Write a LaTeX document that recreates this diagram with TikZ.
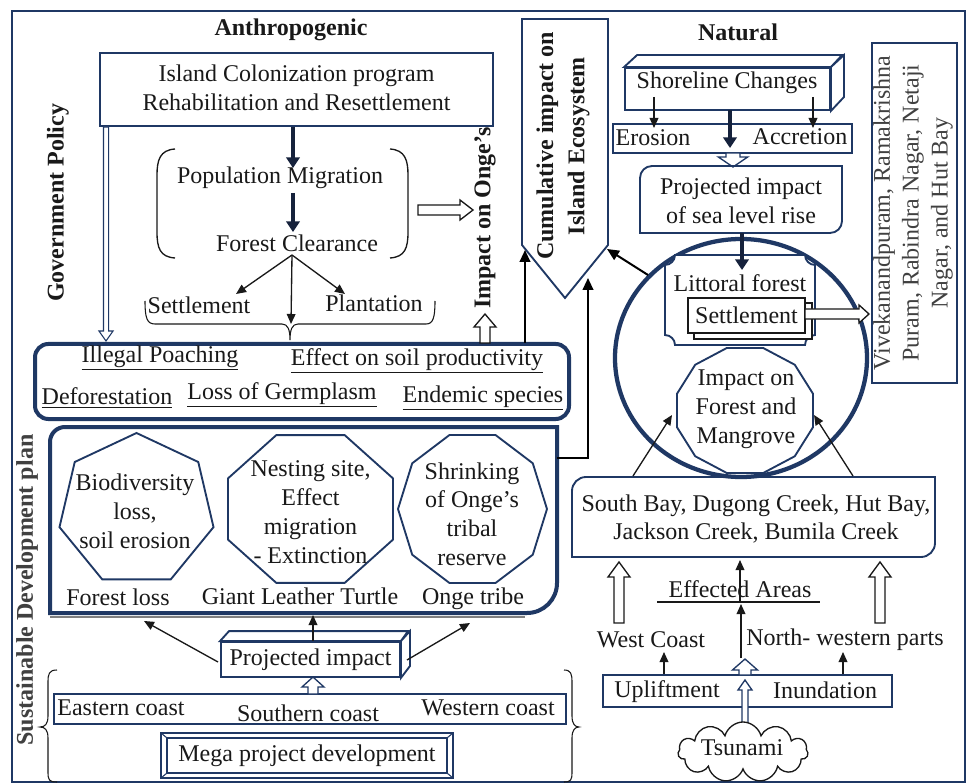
\documentclass[tikz,border=0pt]{standalone}
\usepackage{fontspec}
\setmainfont{Liberation Serif}
\usetikzlibrary{calc,arrows.meta,shapes.symbols,shapes.geometric}
\definecolor{navy}{RGB}{31,56,100}
\definecolor{navydark}{RGB}{22,34,60}
\definecolor{ink}{RGB}{25,25,25}
\tikzset{
 txt/.style={inner sep=0pt, outer sep=0pt, font=\fontsize{18}{21.6}\selectfont, text=ink, align=center},
 tb/.style={txt, font=\fontsize{18}{21.6}\selectfont\bfseries},
 tarr/.style={draw=ink, line width=1pt, -{Triangle[length=7.5pt,width=6.5pt]}},
 barr/.style={draw=black, line width=1.5pt, -{Triangle[length=9pt,width=8pt]}},
 fat/.style={draw=navydark, line width=3.4pt, -{Triangle[length=8pt,width=10pt]}},
 hollow/.style={draw=ink, line width=1pt, fill=white},
 nbox/.style={draw=navy, line width=1.4pt},
 heavy/.style={draw=navy, line width=3pt},
}
\newcommand{\harrow}[6][]{%
 \coordinate (hh) at ($(#3)!#6!(#2)$);
 \draw[hollow,#1] ($(#2)!#4!90:(#3)$) -- ($(hh)!#4!90:(#3)$) -- ($(hh)!#5!90:(#3)$) -- (#3) -- ($(hh)!#5!-90:(#3)$) -- ($(hh)!#4!-90:(#3)$) -- ($(#2)!#4!-90:(#3)$) -- cycle;}
\begin{document}
\begin{tikzpicture}[x=0.75pt,y=-0.75pt]
\useasboundingbox (0,0) rectangle (968,784);
\fill[white] (0,0) rectangle (968,784);
\draw[navy,line width=1.6pt] (12,11) rectangle (965,782);

% ---------- Anthropogenic side
\node[tb] (anthro) at (291,30) {Anthropogenic};
\node[nbox, minimum width=294.75pt, minimum height=54.75pt, inner sep=0] (island) at (296.5,89.5) {};
\node[txt] (islandtxt) at (296.5,88) {Island Colonization program\\Rehabilitation and Resettlement};
\node[tb, rotate=90] (gov) at (58,203) {Government Policy};
\coordinate (govs) at (106,127);
\coordinate (gove) at (106,341);
\harrow[draw=navy, line width=0.8pt]{govs}{gove}{1.9pt}{5.3pt}{7.5pt}

\node[txt] (pop) at (280,178) {Population Migration};
\node[txt] (fc) at (297,243) {Forest Clearance};
\draw[fat] (293,127) -- (293,168);
\draw[fat] (293,193) -- (293,232);
\draw[ink, line width=1pt] (175,149) .. controls (160,150) and (157,160) .. (157,175) -- (157,232) .. controls (157,248) and (160,257) .. (175,258);
\draw[ink, line width=1pt] (390,149) .. controls (405,150) and (408,160) .. (408,175) -- (408,232) .. controls (408,248) and (405,257) .. (390,258);

\coordinate (fcb) at (292,255);
\node[txt] (settl) at (199,305) {Settlement};
\node[txt] (plant) at (374,303) {Plantation};
\draw[tarr] (fcb) -- (236,294);
\draw[tarr] (fcb) -- (291,324);
\draw[tarr] (fcb) -- (345,294);
\draw[ink, line width=0.8pt] (145,301) .. controls (145,318) and (147,324) .. (155,324) -- (282,324) .. controls (288,324) and (290,330) .. (290,340) .. controls (290,330) and (292,324) .. (298,324) -- (426,324) .. controls (433,324) and (435,318) .. (435,301);

\node[heavy, rounded corners=10pt, minimum width=400.5pt, minimum height=56.25pt, inner sep=0] (rb1) at (302,381.5) {};
\node[txt] (ip) at (160,358) {\underline{Illegal Poaching}};
\node[txt] (esp) at (417,361) {\underline{Effect on soil productivity}};
\node[txt] (defo) at (107,398) {\underline{Deforestation}};
\node[txt] (lgp) at (282,395) {\underline{Loss of Germplasm}};
\node[txt] (ends) at (483,398) {\underline{Endemic species}};

% sustainable box
\draw[gray, line width=1pt] (50,617) -- (525,617);
\draw[heavy] (50,613) -- (50,442) .. controls (50,433.7) and (56.7,427) .. (65,427) -- (557,427) -- (557,583) .. controls (557,599.6) and (543.6,613) .. (527,613) -- cycle;
\coordinate (sbr) at (557,458);
\node[tb, rotate=90, text=darkgray] (sdp) at (27,590) {Sustainable Development plan};

\draw[nbox] plot[samples at={0,1,...,6}, variable=\k] ({136.5+79*cos(270+\k*360/7)},{510+77*sin(270+\k*360/7)}) -- cycle;
\draw[nbox] plot[samples at={0,1,...,7}, variable=\k] ({310.5+89.3*cos(22.5+\k*45)},{509+80*sin(22.5+\k*45)}) -- cycle;
\draw[nbox] plot[samples at={0,1,...,9}, variable=\k] ({472.5+74.5*cos(\k*36)},{509+77.8*sin(\k*36)}) -- cycle;
\node[txt] (bio) at (135,511) {Biodiversity\\loss,\\soil erosion};
\node[txt] (nest) at (310.5,512) {Nesting site,\\Effect\\migration\\- Extinction};
\node[txt] (shr) at (472,514) {Shrinking\\of Onge’s\\tribal\\reserve};
\node[txt] (fl) at (118,597) {Forest loss};
\node[txt] (glt) at (300,596) {Giant Leather Turtle};
\node[txt] (ot) at (473,599) {Onge tribe};

% projected impact 3D
\node[nbox, fill=white, minimum width=134.25pt, minimum height=26.25pt, inner sep=0] (proj) at (310.5,659.5) {};
\draw[nbox, fill=white] (proj.north west) -- ++(9,-10) -- ++(179,0) -- (proj.north east) -- cycle;
\draw[nbox, fill=white] (proj.north east) -- ++(9,-10) -- ++(0,35) -- (proj.south east) -- cycle;
\node[txt] (projt) at (310.5,660) {Projected impact};
\draw[tarr] (218,662) -- (144,621);
\draw[tarr] (313,641) -- (313,615);
\draw[tarr] (407,660) -- (470,623);

\node[nbox, minimum width=384pt, minimum height=22.5pt, inner sep=0] (east) at (310,709) {};
\node[txt] (ec) at (121,708) {Eastern coast};
\node[txt] (sc) at (308,713) {Southern coast};
\node[txt] (wco) at (488,708) {Western coast};
\harrow[draw=navy]{313,694}{313,677}{3.75pt}{8.25pt}{7.5pt}

\draw[nbox] (161,733) rectangle (453,778);
\draw[nbox] (167,738) rectangle (447,773);
\draw[navy, line width=0.8pt] (161,733) -- (167,738) (453,733) -- (447,738) (161,778) -- (167,773) (453,778) -- (447,773);
\node[txt] (mega) at (307,755.5) {Mega project development};

\draw[ink, line width=0.8pt] (57,670) .. controls (49,670) and (48,674) .. (48,682) -- (48,716) .. controls (48,724) and (45,727) .. (40,727) .. controls (45,727) and (48,730) .. (48,738) -- (48,772) .. controls (48,780) and (49,782) .. (57,782);
\draw[ink, line width=0.8pt] (564,670) .. controls (571,670) and (572,674) .. (572,682) -- (572,716) .. controls (572,724) and (575,727) .. (579,727) .. controls (575,727) and (572,730) .. (572,738) -- (572,772) .. controls (572,780) and (571,782) .. (564,782);

% ---------- centre
\draw[nbox] (522,19) -- (608,19) -- (608,245) -- (565,298) -- (522,245) -- cycle;
\node[tb, rotate=90] (cum) at (563,146) {Cumulative impact on\\[2pt]Island Ecosystem};
\node[tb, rotate=90] (onge) at (485,218) {Impact on Onge’s};
\harrow{418,210}{473,210}{3.75pt}{7.5pt}{9.75pt}
\harrow{485,343}{485,314}{3.75pt}{8.25pt}{9.75pt}
\draw[barr] (525,343) -- (525,250);
\draw[barr] (sbr) -- (588,458) -- (588,278);

% ---------- Natural side
\node[tb] (natural) at (738,32) {Natural};
\node[nbox, fill=white, minimum width=153.75pt, minimum height=31.5pt, inner sep=0] (shore) at (727.5,89) {};
\draw[nbox, fill=white] (shore.north west) -- ++(13,-12) -- ++(205,0) -- (shore.north east) -- cycle;
\draw[nbox, fill=white] (shore.north east) -- ++(13,-12) -- ++(0,42) -- (shore.south east) -- cycle;
\node[txt] (shoret) at (727,83) {Shoreline Changes};

\node[nbox, minimum width=179.25pt, minimum height=21.75pt, inner sep=0] (eros) at (732.5,138.5) {};
\node[txt] (erot) at (653,138) {Erosion};
\node[txt] (accr) at (800,137) {Accretion};
\draw[tarr] (654,97) -- (654,128);
\draw[tarr] (813,97) -- (813,128);
\draw[fat] (730,110) -- (730,148);
\harrow[draw=navy]{733,153}{733,167}{5.25pt}{11pt}{7.5pt}

\draw[nbox] (640,178) .. controls (640,171.4) and (645.4,166) .. (652,166) -- (842,166) -- (842,221) .. controls (842,227.6) and (836.6,233) .. (830,233) -- (640,233) -- cycle;
\node[txt] (slr) at (741,201) {Projected impact\\of sea level rise};

\node[draw=navy, line width=3.2pt, ellipse, minimum width=189pt, minimum height=178.5pt, inner sep=0] (circ) at (741,358) {};
\draw[barr] (648,275) -- (607,249);

\draw[nbox, fill=white] (675,255) -- (805,255) .. controls (805,260.5) and (809.5,265) .. (815,265) -- (815,335) .. controls (809.5,335) and (805,339.5) .. (805,345) -- (675,345) .. controls (675,339.5) and (670.5,335) .. (665,335) -- (665,265) .. controls (670.5,265) and (675,260.5) .. (675,255) -- cycle;
\node[txt] (litt) at (740,283) {Littoral forest};
\draw[fat] (742,233) -- (742,270);
\draw[draw=ink, line width=1pt, fill=white] (694,303) rectangle (812,339);
\node[txt, draw=ink, line width=1.2pt, fill=white, minimum width=87.75pt, minimum height=26.25pt] (settle) at (746.5,315.5) {Settlement};
\harrow{805,314}{869,314}{3.75pt}{6.75pt}{7.5pt}

\node[draw=navy, line width=1.2pt, minimum width=63.75pt, minimum height=255pt, inner sep=0] (rv) at (914.5,213) {};
\node[txt, rotate=90, text=darkgray] (rvt) at (913,213) {Vivekanandpuram, Ramakrishna\\Puram, Rabindra Nagar, Netaji\\Nagar, and Hut Bay};

\draw[nbox] plot[samples at={0,1,...,11}, variable=\k] ({745+70.4*cos(15+\k*30)},{410.5+64.7*sin(15+\k*30)}) -- cycle;
\node[txt] (ifm) at (746,409) {Impact on\\Forest and\\Mangrove};

\draw[nbox] (572,491) .. controls (572,483.3) and (578.3,477) .. (586,477) -- (935,477) -- (935,543) .. controls (935,550.7) and (928.7,557) .. (921,557) -- (572,557) -- cycle;
\node[txt] (sb) at (756,519) {South Bay, Dugong Creek, Hut Bay,\\Jackson Creek, Bumila Creek};
\draw[tarr] (633,476) -- (672,415);
\draw[tarr] (853,476) -- (814,415);

\harrow{619,623}{619,562}{3.75pt}{8.25pt}{11.25pt}
\harrow{880,623}{880,562}{3.75pt}{8.25pt}{11.25pt}
\node[txt] (eff) at (740,589) {Effected Areas};
\draw[ink, line width=1.2pt] (657,602) -- (820,602);
\draw[tarr] (740,602) -- (740,560);
\draw[tarr] (741,658) -- (741,604);
\node[txt] (wcst) at (651,640) {West Coast};
\node[txt] (nwp) at (845,640) {North- western parts};
\draw[tarr] (664,676) -- (664,652);
\draw[tarr] (843,676) -- (843,652);

\node[nbox, minimum width=216.75pt, minimum height=24pt, inner sep=0] (upl) at (747.5,691) {};
\node[txt] (uplt) at (667,692) {Upliftment};
\node[txt] (inun) at (825,690) {Inundation};
\harrow[draw=navy]{745,675}{745,659}{4.5pt}{9.4pt}{8.25pt}
\harrow[draw=navy]{745,723}{745,680}{2.25pt}{5.25pt}{7.5pt}
\node[cloud, draw=ink, line width=1pt, cloud puffs=11, aspect=2.2, minimum width=97.5pt, minimum height=45pt, inner sep=0, fill=white] (tsu) at (743,752) {};
\node[txt] (tsut) at (742,748) {Tsunami};
\end{tikzpicture}
\end{document}
